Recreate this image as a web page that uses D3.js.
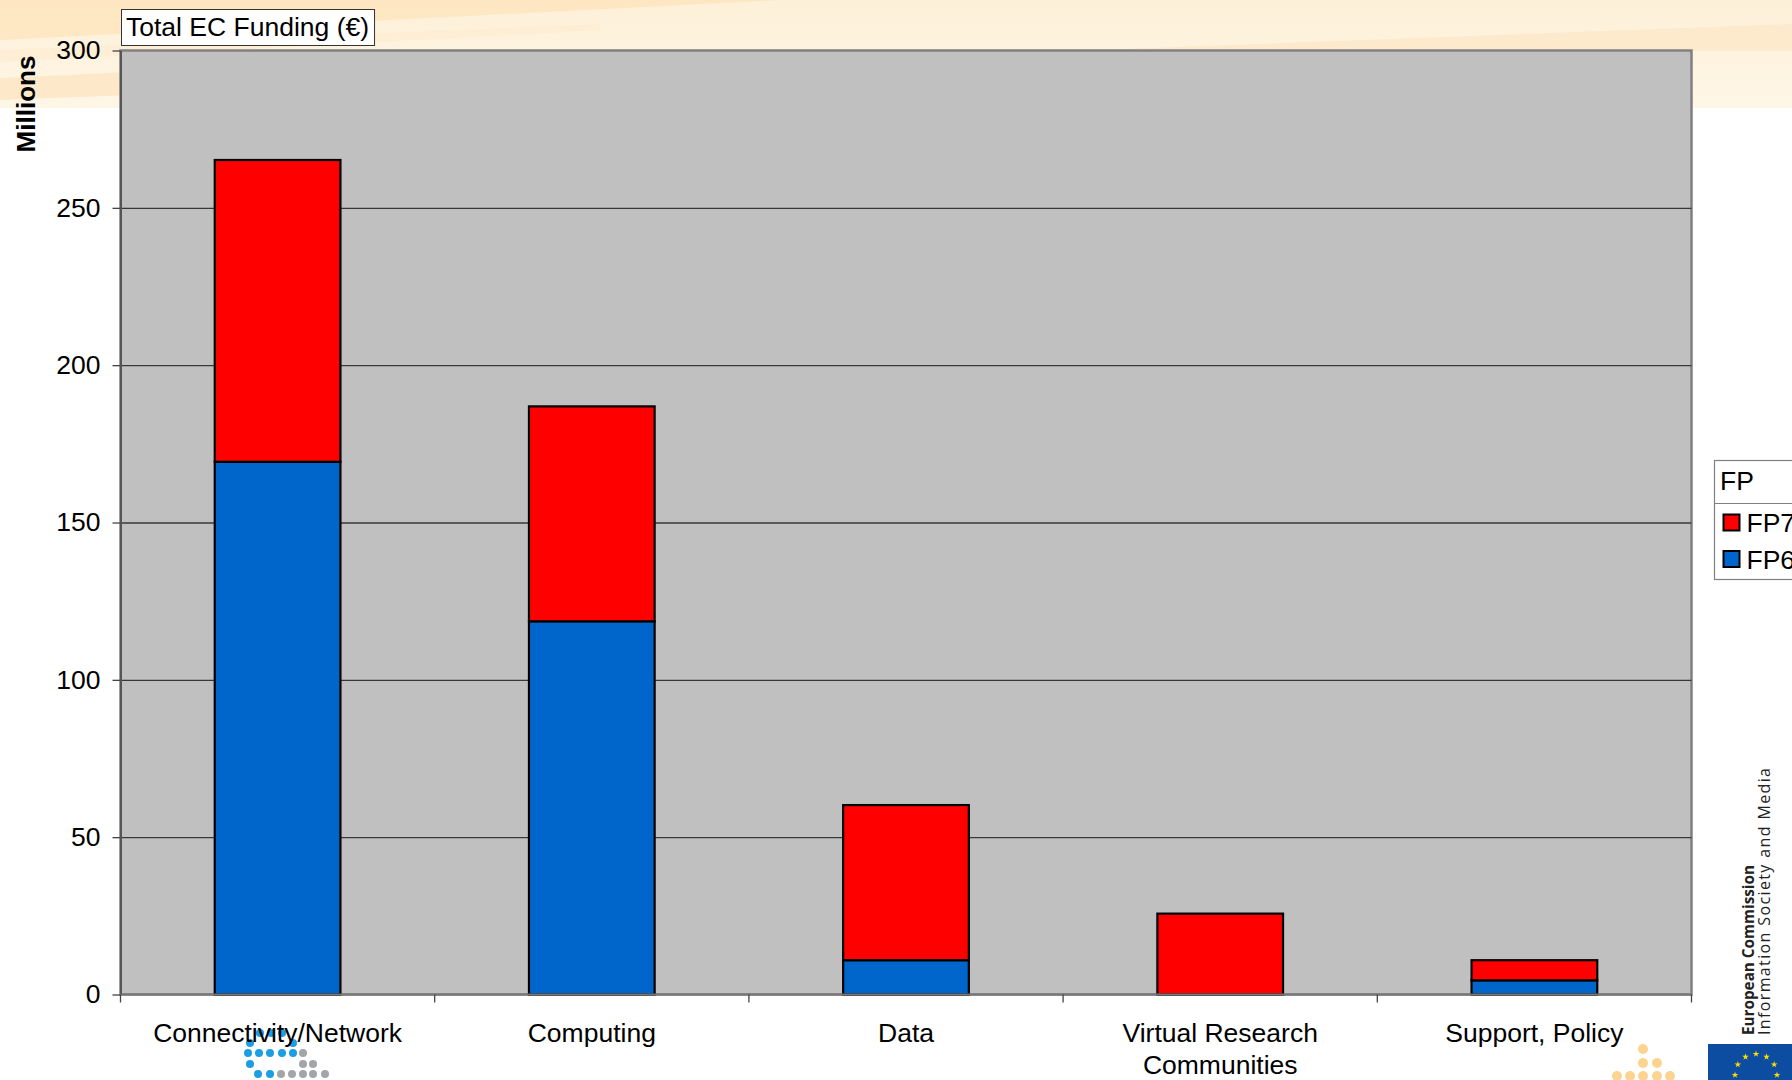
<!DOCTYPE html>
<html>
<head>
<meta charset="utf-8">
<script src="https://cdn.jsdelivr.net/npm/d3@7"></script>
<style>
  html, body { margin: 0; padding: 0; background: #ffffff; }
  svg { display: block; font-family: "Liberation Sans", Arial, Helvetica, sans-serif; }
</style>
</head>
<body>
<svg id="chart" width="1792" height="1080"></svg>
<script>
// ---- Data ----
const categories = ["Connectivity/Network", "Computing", "Data", "Virtual Research Communities", "Support, Policy"];
const fp6Values = [169.3, 118.6, 10.9, 0, 4.5];
const fp7Values = [95.9, 68.3, 49.3, 25.7, 6.4];
const seriesKeys = ["FP6", "FP7"];
const legendOrder = ["FP7", "FP6"];
const yTicks = [0, 50, 100, 150, 200, 250, 300];
const chartTitle = "Total EC Funding (\u20AC)";
const yTitle = "Millions";
const legendTitle = "FP";

// ---- Layout / style ----
const W = 1792, H = 1080;
const P = { left: 120.5, right: 1691.5, top: 50.5, bottom: 994.5 };
const colors = { FP6: "#0066cc", FP7: "#ff0000" };
const FONT = 26.5;

const svg = d3.select("#chart");

// ---- Decorative slide background ----
const deco = svg.append("g");
const gradTop = svg.append("defs").append("linearGradient")
  .attr("id", "topfade").attr("x1", 0).attr("y1", 0).attr("x2", 0).attr("y2", 1);
gradTop.append("stop").attr("offset", "0%").attr("stop-color", "#fdf0d8");
gradTop.append("stop").attr("offset", "100%").attr("stop-color", "#fef6e6");
deco.append("rect").attr("x", 0).attr("y", 0).attr("width", W).attr("height", 108).attr("fill", "url(#topfade)");
deco.append("path").attr("d", "M0,0 L780,0 L0,40 Z").attr("fill", "#fde3bb").attr("opacity", 0.75);
deco.append("path").attr("d", "M0,50 L600,24 L600,30 L0,62 Z").attr("fill", "#fdeacb").attr("opacity", 0.5);
deco.append("path").attr("d", "M0,78 L130,72 L130,95 L0,100 Z").attr("fill", "#fde9c9");
deco.append("path").attr("d", "M1100,50 L1792,24 L1792,51 L1500,51 Z").attr("fill", "#fde9cb");

// ---- Scales ----
const x = d3.scaleBand().domain(categories).range([P.left, P.right]).paddingInner(0.6).paddingOuter(0.3);
const y = d3.scaleLinear().domain([0, 300]).range([P.bottom, P.top]);

// ---- Plot area ----
svg.append("rect")
  .attr("x", P.left).attr("y", P.top)
  .attr("width", P.right - P.left).attr("height", P.bottom - P.top)
  .attr("fill", "#c0c0c0").attr("stroke", "#808080").attr("stroke-width", 2.5);

// gridlines
const grid = svg.append("g").attr("transform", `translate(${P.left},0)`)
  .call(d3.axisLeft(y).tickValues(yTicks.filter(v => v > 0 && v < 300))
    .tickSize(-(P.right - P.left)).tickFormat(""));
grid.select(".domain").remove();
grid.selectAll("line").attr("stroke", "#383838").attr("stroke-width", 1.3);

// ---- Bars ----
const rows = categories.map((c, i) => ({ category: c, FP6: fp6Values[i], FP7: fp7Values[i] }));
const stacked = d3.stack().keys(seriesKeys)(rows);
const barG = svg.append("g");
stacked.forEach(layer => {
  barG.selectAll(null)
    .data(layer.filter(d => d[1] - d[0] > 0))
    .join("rect")
    .attr("x", d => x(d.data.category))
    .attr("width", x.bandwidth())
    .attr("y", d => y(d[1]))
    .attr("height", d => y(d[0]) - y(d[1]))
    .attr("fill", colors[layer.key])
    .attr("stroke", "#000").attr("stroke-width", 2.2);
});

// ---- Axes ----
const yAxis = svg.append("g").attr("transform", `translate(${P.left},0)`)
  .call(d3.axisLeft(y).tickValues(yTicks).tickSize(8).tickSizeOuter(0).tickPadding(12));
yAxis.select(".domain").attr("stroke", "#555").attr("stroke-width", 2);
yAxis.selectAll(".tick line").attr("stroke", "#444").attr("stroke-width", 1.3);
yAxis.selectAll("text").attr("font-size", FONT).attr("fill", "#000")
  .attr("font-family", "Liberation Sans, Arial, sans-serif");

// bottom axis line
svg.append("line").attr("x1", P.left).attr("x2", P.right).attr("y1", P.bottom).attr("y2", P.bottom)
  .attr("stroke", "#777").attr("stroke-width", 2);

// x tick marks at category boundaries
const boundaries = categories.map(c => x(c) - x.step() * x.paddingOuter()).concat([P.right]);
svg.append("g").selectAll("line").data(boundaries).join("line")
  .attr("x1", d => d).attr("x2", d => d)
  .attr("y1", P.bottom).attr("y2", P.bottom + 8)
  .attr("stroke", "#444").attr("stroke-width", 1.3);

// ---- Decorative logos (drawn under category labels) ----
const eDots = [
  [260,1033,"b"],[271,1033,"b"],[282,1033,"b"],
  [250,1043,"b"],[293,1043,"b"],
  [248,1053,"b"],[259,1053,"b"],[270,1053,"b"],[282,1053,"b"],[293,1053,"b"],[303,1053,"g"],
  [250,1064,"b"],[303,1064,"g"],[313,1064,"g"],
  [258,1074,"b"],[270,1074,"b"],[281,1074,"g"],[292,1074,"g"],[303,1074,"g"],[313,1074,"g"],[325,1074,"g"]
];
svg.append("g").selectAll("circle").data(eDots).join("circle")
  .attr("cx", d => d[0]).attr("cy", d => d[1]).attr("r", 4)
  .attr("fill", d => d[2] === "b" ? "#1d9ee3" : "#a3a6a9");

const oDots = [[1643,1049],[1643,1063],[1657,1063],[1617,1076],[1630,1076],[1643,1076],[1657,1076],[1670,1076]];
svg.append("g").selectAll("circle").data(oDots).join("circle")
  .attr("cx", d => d[0]).attr("cy", d => d[1]).attr("r", 5).attr("fill", "#fcd490");

// EU flag
svg.append("rect").attr("x", 1708).attr("y", 1044).attr("width", 90).attr("height", 40).attr("fill", "#0c4da2");
const star = d3.symbol().type(d3.symbolStar).size(14);
svg.append("g").selectAll("path").data(d3.range(12)).join("path")
  .attr("d", star)
  .attr("transform", i => {
    const a = i / 12 * 2 * Math.PI;
    return `translate(${1756 + 21 * Math.sin(a)},${1075 - 21 * Math.cos(a)})`;
  })
  .attr("fill", "#ffdd00");

// EC text
svg.append("text").attr("transform", "translate(1754,1035) rotate(-90)")
  .attr("font-family", "Open Sans, sans-serif").attr("font-weight", "bold").attr("font-size", 16)
  .attr("textLength", 170).attr("lengthAdjust", "spacingAndGlyphs").attr("fill", "#222")
  .text("European Commission");
svg.append("text").attr("transform", "translate(1770,1035) rotate(-90)")
  .attr("font-family", "Open Sans, sans-serif").attr("font-size", 16)
  .attr("textLength", 267).attr("lengthAdjust", "spacing").attr("fill", "#222")
  .text("Information Society and Media");

// ---- Category labels (wrapped) ----
const labelG = svg.append("g");
categories.forEach(c => {
  const cx = x(c) + x.bandwidth() / 2;
  const t = labelG.append("text")
    .attr("x", cx).attr("y", 1042)
    .attr("text-anchor", "middle").attr("font-size", FONT).attr("fill", "#000");
  const words = c.split(" ");
  let line = [];
  let tspan = t.append("tspan").attr("x", cx).attr("dy", 0);
  words.forEach(w => {
    line.push(w);
    tspan.text(line.join(" "));
    if (tspan.node().getComputedTextLength() > x.step() * 0.98 && line.length > 1) {
      line.pop();
      tspan.text(line.join(" "));
      line = [w];
      tspan = t.append("tspan").attr("x", cx).attr("dy", 31.5).text(w);
    }
  });
});

// ---- Chart title box ----
const titleG = svg.append("g");
const titleRect = titleG.append("rect");
const titleText = titleG.append("text").attr("x", 126).attr("y", 36)
  .attr("font-size", FONT).attr("fill", "#000").text(chartTitle);
const tw = titleText.node().getComputedTextLength();
titleRect
  .attr("x", 121.5).attr("y", 9.5).attr("width", tw + 10).attr("height", 36)
  .attr("fill", "#fff").attr("stroke", "#333").attr("stroke-width", 1);

// ---- Y title ----
svg.append("text").attr("transform", "translate(35,104) rotate(-90)")
  .attr("text-anchor", "middle").attr("font-weight", "bold").attr("font-size", 26)
  .attr("fill", "#000").text(yTitle);

// ---- Legend (cut by the right page edge, as in the reference) ----
const lg = svg.append("g");
lg.append("rect").attr("x", 1714.5).attr("y", 460.5).attr("width", 120).attr("height", 119)
  .attr("fill", "#fff").attr("stroke", "#808080").attr("stroke-width", 1.2);
lg.append("line").attr("x1", 1714.5).attr("x2", 1792).attr("y1", 503.5).attr("y2", 503.5)
  .attr("stroke", "#808080").attr("stroke-width", 1.2);
lg.append("text").attr("x", 1720).attr("y", 490).attr("font-size", FONT).attr("fill", "#000").text(legendTitle);
legendOrder.forEach((k, i) => {
  const yy = 514.5 + i * 36.5;
  lg.append("rect").attr("x", 1723.5).attr("y", yy).attr("width", 16).attr("height", 16)
    .attr("fill", colors[k]).attr("stroke", "#000").attr("stroke-width", 2);
  lg.append("text").attr("x", 1746.5).attr("y", yy + 17.5).attr("font-size", FONT).attr("fill", "#000").text(k);
});
</script>
</body>
</html>
